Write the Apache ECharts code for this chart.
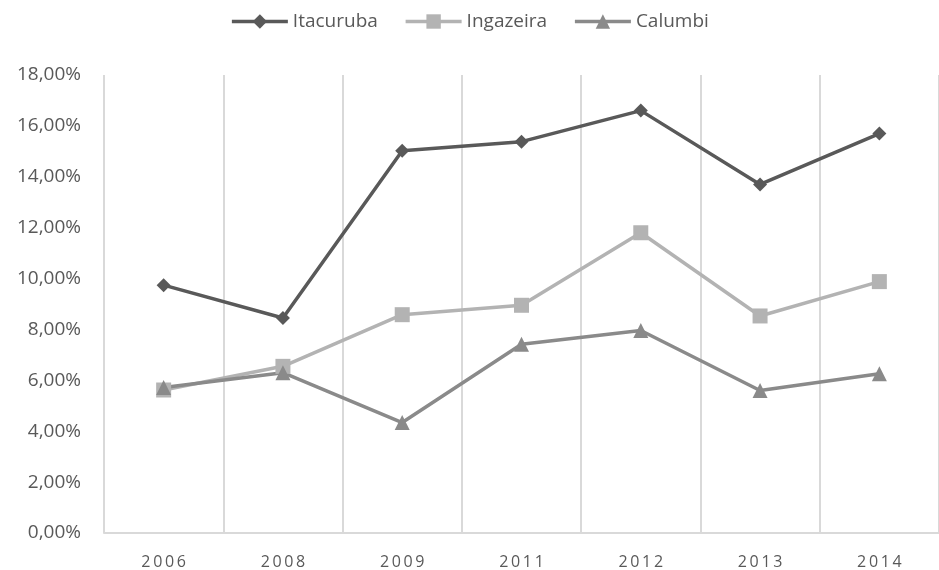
<!DOCTYPE html>
<html>
<head>
<meta charset="utf-8">
<script src="https://cdn.jsdelivr.net/npm/echarts@6/dist/echarts.min.js"></script>
<style>
  html, body { margin: 0; padding: 0; background: #fff; }
  #chart { width: 939px; height: 570px; }
</style>
</head>
<body>
<div id="chart"></div>
<script>
// anos
const years = ["2006", "2008", "2009", "2011", "2012", "2013", "2014"];
// valores em %
const itacuruba = [9.74, 8.45, 15.02, 15.38, 16.6, 13.7, 15.7];
const ingazeira = [5.62, 6.55, 8.58, 8.95, 11.8, 8.53, 9.88];
const calumbi = [5.72, 6.3, 4.34, 7.42, 7.96, 5.6, 6.26];

const fontFam = "'Open Sans', 'Liberation Sans', sans-serif";

function lineSeries(name, data, color, symbol, size) {
  return {
    name: name,
    type: "line",
    data: data,
    symbol: symbol,
    symbolSize: size,
    showAllSymbol: true,
    lineStyle: { color: color, width: 3.5 },
    itemStyle: { color: color },
  };
}

const chart = echarts.init(document.getElementById("chart"));
chart.setOption({
  animation: false,
  legend: {
    top: 7,
    left: "center",
    itemWidth: 56,
    itemHeight: 18,
    itemGap: 26,
    lineStyle: { width: 3.5 },
    textStyle: { color: "#595959", fontSize: 19, fontFamily: fontFam },
  },
  grid: { left: 104, right: -7, top: 75, bottom: 37 },
  xAxis: {
    type: "category",
    data: years,
    boundaryGap: true,
    axisLine: { lineStyle: { color: "#d9d9d9", width: 2 } },
    axisTick: { show: false },
    splitLine: { show: true, lineStyle: { color: "#d9d9d9", width: 2 } },
    axisLabel: {
      color: "#595959",
      fontSize: 16,
      fontFamily: fontFam,
      margin: 21,
      formatter: (v) => v.split("").join("\u2009"),
    },
  },
  yAxis: {
    type: "value",
    min: 0,
    max: 18,
    interval: 2,
    axisLine: { show: false },
    axisTick: { show: false },
    splitLine: { show: false },
    axisLabel: {
      color: "#595959",
      fontSize: 19,
      fontFamily: fontFam,
      margin: 23,
      formatter: (v) => v.toFixed(2).replace(".", ",") + "%",
    },
  },
  series: [
    lineSeries("Itacuruba", itacuruba, "#595959", "diamond", 14),
    lineSeries("Ingazeira", ingazeira, "#b3b3b3", "rect", 15),
    lineSeries("Calumbi", calumbi, "#8a8a8a", "triangle", 15),
  ],
});
</script>
</body>
</html>
